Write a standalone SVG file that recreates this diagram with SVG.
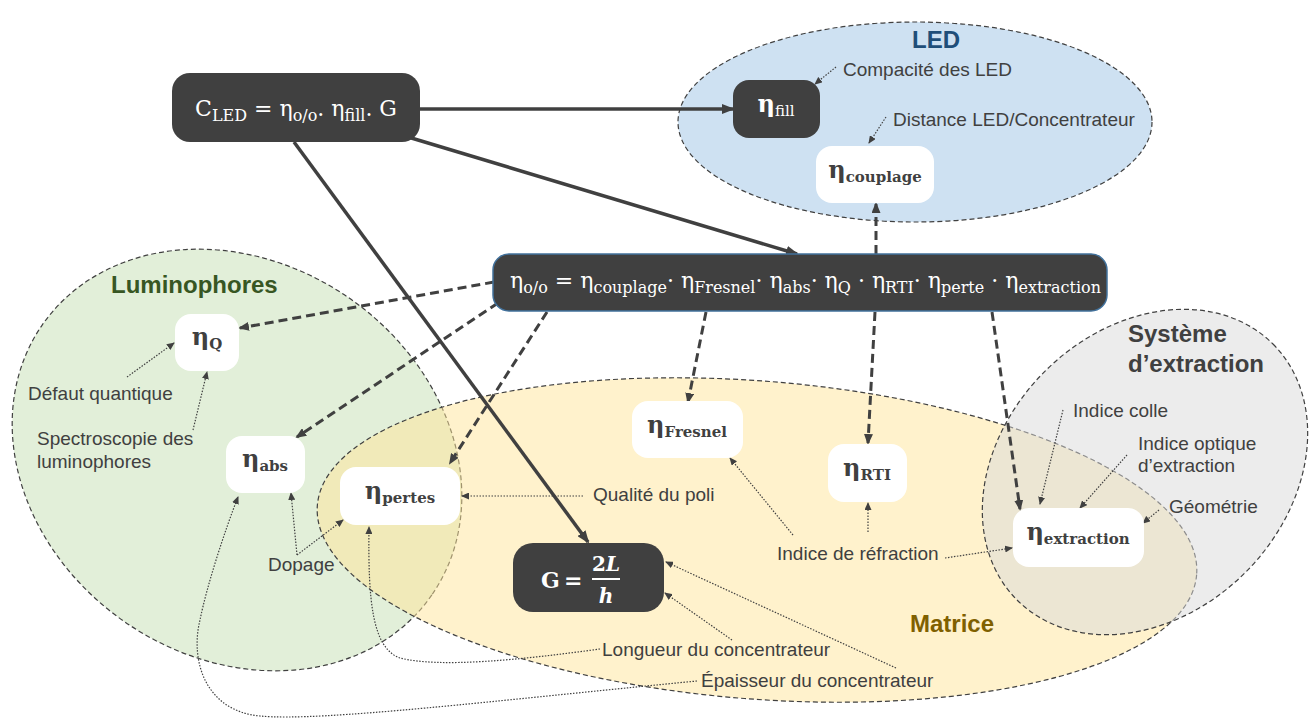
<svg xmlns="http://www.w3.org/2000/svg" width="1309" height="718" viewBox="0 0 1309 718">
<style>
.reg{stroke:#404040;stroke-width:1.2;stroke-dasharray:5 3;fill-opacity:0.5}
.solid{fill:none;stroke:#404040;stroke-width:3.5}
.dash{fill:none;stroke:#404040;stroke-width:3;stroke-dasharray:9 5}
.dot{fill:none;stroke:#404040;stroke-width:1.2;stroke-dasharray:1.5 1.5}
.dark{fill:#404040}
.wbox{fill:#ffffff}
.lbl{font-family:"Liberation Sans",Arial,sans-serif;font-size:19px;fill:#404040}
.ttl{font-family:"Liberation Sans",Arial,sans-serif;font-size:24px;font-weight:bold}
.fw{font-family:"DejaVu Serif","Liberation Serif",serif;fill:#ffffff}
.eta{font-family:"DejaVu Serif","Liberation Serif",serif;font-weight:bold;fill:#404040;font-size:24px}
.sub{font-size:15px}
</style>
<defs>
<marker id="aS" viewBox="0 0 13 10" refX="11" refY="5" markerWidth="13" markerHeight="10" markerUnits="userSpaceOnUse" orient="auto"><path d="M0,0 L13,5 L0,10 z" fill="#404040"/></marker>
<marker id="aD" viewBox="0 0 11 9" refX="9" refY="4.5" markerWidth="11" markerHeight="9" markerUnits="userSpaceOnUse" orient="auto"><path d="M0,0 L11,4.5 L0,9 z" fill="#404040"/></marker>
<marker id="aT" viewBox="0 0 8 7" refX="7" refY="3.5" markerWidth="8" markerHeight="7" markerUnits="userSpaceOnUse" orient="auto"><path d="M0,0 L8,3.5 L0,7 z" fill="#404040"/></marker>
</defs>
<rect width="1309" height="718" fill="#ffffff"/>

<g id="region-led">
<ellipse class="reg" cx="915" cy="122" rx="237" ry="100" fill="#9dc3e6" fill-opacity="0.55"/>
<text class="ttl" x="936" y="48" text-anchor="middle" fill="#1f4e79" font-size="26">LED</text>
</g>
<g id="region-luminophores">
<ellipse class="reg" cx="237" cy="460" rx="237" ry="197" transform="rotate(34.7 237 460)" fill="#c5e0b4"/>
<text class="ttl" x="111" y="293" fill="#375623">Luminophores</text>
</g>
<g id="region-matrice">
<ellipse class="reg" cx="757" cy="540" rx="441" ry="159" transform="rotate(4.5 757 540)" fill="#ffe699"/>
<text class="ttl" x="910" y="632" fill="#7f6000">Matrice</text>
</g>
<g id="region-extraction">
<ellipse class="reg" cx="1145" cy="472" rx="181" ry="142" transform="rotate(-45 1145 472)" fill="#d9d9d9"/>
<text class="ttl" x="1128" y="342" fill="#404040">Système</text>
<text class="ttl" x="1128" y="372" fill="#404040">d’extraction</text>
</g>

<g id="connectors">
<line class="solid" x1="420" y1="109" x2="733" y2="109" marker-end="url(#aS)"/>
<line class="solid" x1="408" y1="137" x2="797" y2="254" marker-end="url(#aS)"/>
<line class="solid" x1="294" y1="142" x2="588" y2="542" marker-end="url(#aS)"/>
<line class="dash" x1="494" y1="282" x2="240" y2="328" marker-end="url(#aD)"/>
<line class="dash" x1="498" y1="303" x2="297" y2="437" marker-end="url(#aD)"/>
<line class="dash" x1="547" y1="312" x2="450" y2="463" marker-end="url(#aD)"/>
<line class="dash" x1="706" y1="312" x2="688" y2="402" marker-end="url(#aD)"/>
<line class="dash" x1="875" y1="312" x2="868" y2="443" marker-end="url(#aD)"/>
<line class="dash" x1="992" y1="312" x2="1020" y2="509" marker-end="url(#aD)"/>
<line class="dash" x1="876" y1="254" x2="876" y2="204" marker-end="url(#aD)"/>
<line class="dot" x1="836" y1="67" x2="815" y2="84" marker-end="url(#aT)"/>
<line class="dot" x1="886" y1="117" x2="869" y2="143" marker-end="url(#aT)"/>
<line class="dot" x1="127" y1="377" x2="174" y2="343" marker-end="url(#aT)"/>
<line class="dot" x1="193" y1="430" x2="207" y2="372" marker-end="url(#aT)"/>
<line class="dot" x1="297" y1="555" x2="291" y2="493" marker-end="url(#aT)"/>
<line class="dot" x1="297" y1="555" x2="343" y2="520" marker-end="url(#aT)"/>
<path class="dot" d="M697,681 C500,700 320,722 260,716 C205,711 190,660 200,620 C207,585 225,530 238,497" marker-end="url(#aT)"/>
<path class="dot" d="M600,649 C520,660 440,668 400,658 C372,648 368,600 369,527" marker-end="url(#aT)"/>
<line class="dot" x1="583" y1="496" x2="462" y2="496" marker-end="url(#aT)"/>
<line class="dot" x1="793" y1="535" x2="730" y2="458" marker-end="url(#aT)"/>
<line class="dot" x1="868" y1="532" x2="868" y2="503" marker-end="url(#aT)"/>
<line class="dot" x1="945" y1="558" x2="1012" y2="548" marker-end="url(#aT)"/>
<line class="dot" x1="732" y1="640" x2="665" y2="593" marker-end="url(#aT)"/>
<line class="dot" x1="896" y1="668" x2="666" y2="562" marker-end="url(#aT)"/>
<line class="dot" x1="1063" y1="410" x2="1040" y2="504" marker-end="url(#aT)"/>
<line class="dot" x1="1127" y1="455" x2="1080" y2="508" marker-end="url(#aT)"/>
<line class="dot" x1="1159" y1="510" x2="1143" y2="523" marker-end="url(#aT)"/>
</g>

<g id="node-cled">
<rect class="dark" x="172" y="73" width="248" height="69" rx="18"/>
<text class="fw" x="296" y="116" text-anchor="middle" font-size="22">C<tspan font-size="16" dy="5">LED</tspan><tspan dy="-5"> = η</tspan><tspan font-size="16" dy="5">o/o</tspan><tspan dy="-5">. η</tspan><tspan font-size="16" dy="5">fill</tspan><tspan dy="-5">. G</tspan></text>
</g>
<g id="node-eta-oo">
<rect class="dark" x="493" y="254" width="614" height="57" rx="16" stroke="#41719c" stroke-width="1.5"/>
<text class="fw" x="510" y="288" font-size="22" textLength="591" lengthAdjust="spacing">η<tspan font-size="16" dy="5">o/o</tspan><tspan dy="-5"> = η</tspan><tspan font-size="16" dy="5">couplage</tspan><tspan dy="-5">· η</tspan><tspan font-size="16" dy="5">Fresnel</tspan><tspan dy="-5">· η</tspan><tspan font-size="16" dy="5">abs</tspan><tspan dy="-5">· η</tspan><tspan font-size="16" dy="5">Q</tspan><tspan dy="-5"> · η</tspan><tspan font-size="16" dy="5">RTI</tspan><tspan dy="-5">· η</tspan><tspan font-size="16" dy="5">perte</tspan><tspan dy="-5"> · η</tspan><tspan font-size="16" dy="5">extraction</tspan></text>
</g>
<g id="node-eta-fill">
<rect class="dark" x="733" y="80" width="87" height="58" rx="16"/>
<text class="eta" x="776" y="112" text-anchor="middle" style="fill:#ffffff">η<tspan class="sub" dy="4" font-weight="normal">fill</tspan></text>
</g>
<g id="node-eta-couplage">
<rect class="wbox" x="816" y="146" width="118" height="57" rx="16"/>
<text class="eta" x="875" y="178" text-anchor="middle">η<tspan class="sub" dy="4">couplage</tspan></text>
</g>
<g id="node-eta-q">
<rect class="wbox" x="175" y="314" width="64" height="57" rx="16"/>
<text class="eta" x="207" y="345" text-anchor="middle">η<tspan class="sub" dy="4">Q</tspan></text>
</g>
<g id="node-eta-abs">
<rect class="wbox" x="226" y="436" width="79" height="57" rx="16"/>
<text class="eta" x="265" y="467" text-anchor="middle">η<tspan class="sub" dy="4">abs</tspan></text>
</g>
<g id="node-eta-pertes">
<rect class="wbox" x="340" y="467" width="120" height="58" rx="16"/>
<text class="eta" x="400" y="499" text-anchor="middle">η<tspan class="sub" dy="4">pertes</tspan></text>
</g>
<g id="node-eta-fresnel">
<rect class="wbox" x="632" y="401" width="111" height="57" rx="16"/>
<text class="eta" x="687" y="433" text-anchor="middle">η<tspan class="sub" dy="4">Fresnel</tspan></text>
</g>
<g id="node-eta-rti">
<rect class="wbox" x="828" y="444" width="79" height="58" rx="16"/>
<text class="eta" x="867" y="476" text-anchor="middle">η<tspan class="sub" dy="4">RTI</tspan></text>
</g>
<g id="node-eta-extraction">
<rect class="wbox" x="1013" y="508" width="131" height="59" rx="16"/>
<text class="eta" x="1078" y="540" text-anchor="middle">η<tspan class="sub" dy="4">extraction</tspan></text>
</g>
<g id="node-g">
<rect class="dark" x="513" y="543" width="151" height="69" rx="20"/>
<text class="fw" x="541" y="588" font-size="22" font-weight="bold">G</text>
<text class="fw" x="564" y="588" font-size="22" font-weight="bold">=</text>
<text class="fw" x="606" y="571" font-size="20" font-weight="bold" text-anchor="middle">2<tspan font-style="italic">L</tspan></text>
<line x1="592" y1="579" x2="620" y2="579" stroke="#ffffff" stroke-width="2"/>
<text class="fw" x="606" y="603" font-size="20" font-weight="bold" font-style="italic" text-anchor="middle">h</text>
</g>

<g id="label-compacite"><text class="lbl" x="843" y="76">Compacité des LED</text></g>
<g id="label-distance"><text class="lbl" x="893" y="126">Distance LED/Concentrateur</text></g>
<g id="label-defaut"><text class="lbl" x="28" y="400">Défaut quantique</text></g>
<g id="label-spectro"><text class="lbl" x="37" y="445">Spectroscopie des</text><text class="lbl" x="37" y="468">luminophores</text></g>
<g id="label-dopage"><text class="lbl" x="268" y="571">Dopage</text></g>
<g id="label-poli"><text class="lbl" x="593" y="501">Qualité du poli</text></g>
<g id="label-indice-refraction"><text class="lbl" x="777" y="560">Indice de réfraction</text></g>
<g id="label-longueur"><text class="lbl" x="602" y="656">Longueur du concentrateur</text></g>
<g id="label-epaisseur"><text class="lbl" x="701" y="687">Épaisseur du concentrateur</text></g>
<g id="label-colle"><text class="lbl" x="1073" y="417">Indice colle</text></g>
<g id="label-optique"><text class="lbl" x="1138" y="450">Indice optique</text><text class="lbl" x="1138" y="472">d’extraction</text></g>
<g id="label-geometrie"><text class="lbl" x="1169" y="513">Géométrie</text></g>
</svg>
